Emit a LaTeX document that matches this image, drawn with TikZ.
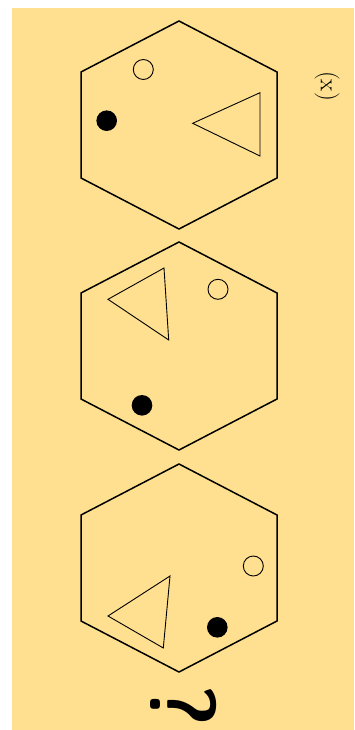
\documentclass[tikz,border=0pt]{standalone}
\usepackage{tikz}
\definecolor{paper}{RGB}{254,224,144}
\tikzstyle{hexa} = [line width=1.5pt, line join=miter]
\tikzstyle{tri} = [line width=0.9pt, line join=miter]
\tikzstyle{ring} = [line width=0.9pt]
\tikzstyle{dot} = [fill=black]

\begin{document}
\begin{tikzpicture}[x=1pt,y=-1pt]
    \useasboundingbox (0,0) rectangle (354,730);
    \fill[paper] (12,8) rectangle (354,730);
    \def\W{98}
    \def\H{104}
    \def\S{53}
    % the three hexagons
    \foreach \cy in {125,346,568}{
        \draw[hexa] (179,\cy-\H) -- (179+\W,\cy-\S) -- (179+\W,\cy+\S)
            -- (179,\cy+\H) -- (179-\W,\cy+\S) -- (179-\W,\cy-\S) -- cycle;
    }
    % first hexagon
    \draw[ring] (143.3,69.5) circle (10);
    \fill[dot] (106.7,120.7) circle (10.3);
    \draw[tri] (192.7,123.3) -- (260,92.7) -- (260,156) -- cycle;
    % second hexagon
    \draw[tri] (108,299.3) -- (164,268) -- (168.7,340) -- cycle;
    \draw[ring] (218,289.3) circle (10);
    \fill[dot] (142,405.3) circle (10.3);
    % third hexagon
    \draw[ring] (253.3,566) circle (10);
    \draw[tri] (108,616) -- (170,576) -- (163.3,648) -- cycle;
    \fill[dot] (217.3,627.3) circle (10.3);
    % labels
    \node[rotate=-90, inner sep=0, font=\fontsize{25}{28}\selectfont] (lblx) at (327,86) {(x)};
    \node[rotate=-90, inner sep=0, font=\sffamily\fontseries{sbc}\fontsize{94}{96}\selectfont] (qmark) at (183.5,706) {?};
\end{tikzpicture}
\end{document}
